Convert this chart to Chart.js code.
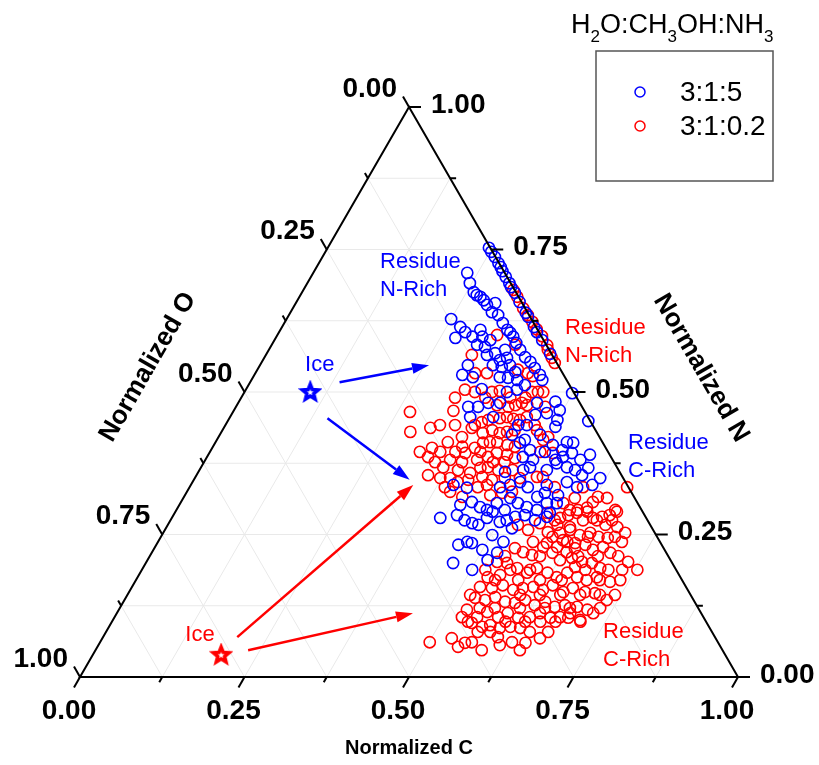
<!DOCTYPE html>
<html>
<head>
<meta charset="utf-8">
<script src="https://cdn.jsdelivr.net/npm/chart.js@4"></script>
<style>
html, body { margin: 0; padding: 0; background: #fff; }
</style>
</head>
<body>
<canvas id="ternaryChart" width="819" height="765"></canvas>
<script>
// Ternary data: normalized C and normalized N (O = 1 - C - N)
const blueC = [0.245,0.262,0.273,0.286,0.296,0.307,0.339,0.358,0.365,0.383,0.392,0.407,0.431,0.499,0.548,
  0.234,0.247,0.261,0.275,0.292,0.303,0.306,0.318,0.332,0.345,0.360,0.382,0.396,0.408,0.420,0.434,
  0.250,0.271,0.283,0.298,0.304,0.313,0.312,0.326,0.336,0.347,0.360,0.369,0.380,0.369,0.354,0.316,0.316,
  0.334,0.375,0.388,0.404,0.442,0.358,0.399,0.412,0.353,0.368,0.380,0.398,0.454,0.481,
  0.365,0.400,0.445,0.458,0.500,0.478,0.503,0.444,0.468,0.487,0.534,0.463,0.485,0.515,0.544,
  0.480,0.498,0.541,0.551,0.534,0.466,0.492,0.500,0.528,0.537,0.556,0.571,0.589,0.586,
  0.399,0.422,0.472,0.485,0.498,0.514,0.541,0.569,0.589,0.610,
  0.442,0.459,0.472,0.481,0.497,0.513,0.530,0.537,0.557,0.572,0.570,
  0.408,0.431,0.447,0.461,0.472,0.479,0.502,0.511,0.521,0.534,0.554,0.569,
  0.470,0.478,0.500,0.502,0.525,0.525,0.526,0.467,0.502,
  0.252,0.280,0.313,0.324,0.268,0.283,0.352,0.370,
  0.273,0.328,0.359,0.394,0.420,0.495,0.462,
  0.427,0.482,0.499,0.459,0.517,0.548,0.567,0.545,
  0.509,0.532,0.570,0.580,0.616];
const blueN = [0.753,0.737,0.726,0.712,0.702,0.691,0.658,0.639,0.632,0.614,0.605,0.591,0.567,0.498,0.449,
  0.709,0.691,0.675,0.667,0.653,0.656,0.640,0.635,0.621,0.609,0.597,0.574,0.561,0.553,0.542,0.530,
  0.628,0.614,0.605,0.597,0.609,0.597,0.583,0.579,0.565,0.568,0.556,0.560,0.547,0.544,0.547,0.547,0.530,
  0.526,0.526,0.525,0.521,0.521,0.505,0.500,0.504,0.474,0.474,0.481,0.481,0.481,0.483,
  0.456,0.456,0.442,0.442,0.451,0.463,0.439,0.425,0.416,0.425,0.412,0.411,0.398,0.407,0.411,
  0.386,0.381,0.386,0.393,0.398,0.360,0.363,0.368,0.363,0.375,0.368,0.363,0.367,0.354,
  0.337,0.332,0.333,0.337,0.342,0.333,0.337,0.342,0.333,0.337,
  0.307,0.298,0.293,0.305,0.314,0.305,0.298,0.316,0.305,0.305,0.288,
  0.279,0.284,0.275,0.270,0.267,0.279,0.272,0.275,0.281,0.284,0.275,0.281,
  0.237,0.235,0.223,0.249,0.218,0.237,0.261,0.200,0.188,
  0.746,0.719,0.684,0.674,0.670,0.661,0.604,0.586,
  0.595,0.591,0.574,0.535,0.512,0.468,0.460,
  0.302,0.290,0.293,0.232,0.205,0.293,0.319,0.323,
  0.395,0.381,0.381,0.390,0.349];

const redC = [0.319,0.331,0.350,0.363,0.376,0.389,0.403,0.419,0.424,0.437,0.446,0.665,
  0.334,0.313,0.370,0.396,0.334,0.352,0.414,0.424,0.333,0.350,0.376,0.387,0.437,0.446,0.454,
  0.269,0.334,0.395,0.414,0.423,0.431,0.441,0.470,0.387,0.395,0.411,0.421,0.432,0.443,0.451,
  0.287,0.314,0.370,0.377,0.398,0.410,0.424,0.434,0.444,0.478,
  0.353,0.334,0.379,0.399,0.407,0.417,0.428,0.446,0.459,0.496,0.501,
  0.336,0.372,0.368,0.389,0.413,0.427,0.437,0.454,0.469,0.522,
  0.352,0.393,0.414,0.425,0.436,0.454,0.476,0.519,0.528,
  0.388,0.403,0.417,0.436,0.453,0.438,0.450,0.555,0.598,0.423,0.464,0.480,
  0.582,0.598,0.629,0.626,0.622,0.644,0.667,0.595,0.610,
  0.532,0.552,0.570,0.564,0.584,0.592,0.614,0.613,0.635,0.548,0.564,0.580,0.590,0.609,0.627,0.630,
  0.533,0.549,0.569,0.588,0.599,0.619,0.637,0.649,0.656,0.549,0.532,
  0.529,0.548,0.562,0.582,0.595,0.610,0.627,0.638,0.660,0.671,
  0.531,0.548,0.561,0.580,0.596,0.609,0.628,0.641,0.660,0.674,
  0.529,0.528,0.551,0.562,0.583,0.594,0.614,0.631,0.643,0.663,0.677,0.689,
  0.548,0.567,0.578,0.595,0.610,0.626,
  0.501,0.531,0.548,0.555,0.565,0.600,0.610,0.626,0.647,0.665,
  0.566,0.590,0.600,0.611,0.626,0.640,0.653,0.663,0.671,0.665,0.685,0.702,0.705,
  0.603,0.616,0.635,0.649,0.665,0.680,0.592,0.611,0.622,0.639,0.652,0.668,0.681,0.697,0.732,0.753,
  0.643,0.662,0.678,0.695,0.722,0.668,0.685,0.698,0.693,0.709,0.733,0.694,0.712,0.724,0.690,0.710,
  0.584,0.627,0.648,0.671,0.595,0.649,0.690,
  0.540,0.593,0.651,0.681,0.712,
  0.522,0.560,0.590,0.674,0.709,0.730,
  0.546,0.581,0.614,0.647,0.705,0.736,
  0.521,0.597,0.627,0.658,0.688,0.718,0.741,
  0.547,0.570,0.608,0.646,0.684,0.730,
  0.541,0.598,0.628,0.651,0.674,0.712,
  0.565,0.584,0.644,0.672,0.645,0.587,
  0.325,0.371,0.409,0.432,0.326,0.349,0.379,0.470,
  0.319,0.350,0.373,0.411,0.502,0.351,0.392,0.439,0.457,
  0.373,0.388,0.471,0.494,0.400,0.494];
const redN = [0.679,0.667,0.647,0.635,0.623,0.610,0.598,0.582,0.574,0.560,0.551,0.333,
  0.600,0.565,0.583,0.539,0.533,0.533,0.533,0.528,0.504,0.500,0.500,0.502,0.500,0.500,0.500,
  0.465,0.467,0.477,0.474,0.477,0.481,0.477,0.474,0.447,0.451,0.454,0.456,0.453,0.451,0.456,
  0.430,0.437,0.421,0.437,0.428,0.433,0.428,0.430,0.433,0.433,
  0.412,0.402,0.404,0.402,0.411,0.412,0.412,0.407,0.404,0.416,0.421,
  0.386,0.381,0.368,0.393,0.381,0.386,0.393,0.390,0.384,0.393,
  0.354,0.363,0.358,0.367,0.368,0.363,0.363,0.351,0.351,
  0.333,0.342,0.346,0.351,0.346,0.333,0.337,0.333,0.333,0.316,0.319,0.323,
  0.305,0.293,0.316,0.307,0.297,0.314,0.293,0.314,0.293,
  0.267,0.258,0.237,0.270,0.254,0.267,0.240,0.263,0.235,0.226,0.219,0.214,0.228,0.218,0.205,0.219,
  0.202,0.200,0.191,0.183,0.191,0.183,0.175,0.183,0.193,0.179,0.175,
  0.158,0.156,0.161,0.153,0.156,0.158,0.153,0.161,0.149,0.156,
  0.139,0.135,0.140,0.132,0.130,0.135,0.126,0.132,0.123,0.126,
  0.118,0.105,0.105,0.114,0.105,0.112,0.104,0.105,0.112,0.104,0.105,0.112,
  0.095,0.088,0.091,0.086,0.088,0.086,
  0.061,0.068,0.053,0.060,0.061,0.070,0.056,0.061,0.060,0.068,
  0.288,0.279,0.284,0.288,0.290,0.279,0.281,0.284,0.290,0.267,0.263,0.253,0.237,
  0.253,0.258,0.249,0.253,0.246,0.244,0.235,0.228,0.237,0.226,0.232,0.223,0.228,0.218,0.202,0.188,
  0.209,0.202,0.200,0.191,0.167,0.175,0.170,0.175,0.149,0.147,0.135,0.123,0.118,0.112,0.104,0.100,
  0.275,0.275,0.275,0.275,0.246,0.246,0.246,
  0.212,0.212,0.212,0.212,0.212,
  0.188,0.188,0.188,0.188,0.188,0.188,
  0.170,0.170,0.170,0.170,0.170,0.170,
  0.144,0.144,0.144,0.144,0.144,0.144,0.144,
  0.121,0.121,0.121,0.121,0.121,0.121,
  0.097,0.097,0.097,0.097,0.097,0.097,
  0.079,0.079,0.079,0.079,0.047,0.047,
  0.490,0.490,0.490,0.490,0.442,0.442,0.442,0.442,
  0.395,0.395,0.395,0.395,0.395,0.377,0.377,0.377,0.377,
  0.349,0.349,0.349,0.349,0.325,0.325];

// ice compositions: [blue, red]
const iceC = [0.100, 0.195];
const iceN = [0.500, 0.039];

// arrows from ice to residues
const arrowFromC = [0.136, 0.149, 0.204, 0.232];
const arrowFromN = [0.517, 0.454, 0.070, 0.047];
const arrowToC = [0.257, 0.328, 0.338, 0.450];
const arrowToN = [0.547, 0.346, 0.337, 0.112];
const arrowSeries = [0, 0, 1, 1];

const tickValues = [0, 0.25, 0.5, 0.75, 1];
const tickLabels = ['0.00', '0.25', '0.50', '0.75', '1.00'];
const seriesLabels = ['3:1:5', '3:1:0.2'];
const seriesColors = ['#0000ff', '#ff0000'];

const SQ3 = Math.sqrt(3) / 2;
const FONT = "'Liberation Sans', Arial, sans-serif";

function toXY(c, n) {
    return { x: c + n / 2, y: n * SQ3 };
}

function makeStar(color) {
    const cv = document.createElement('canvas');
    cv.width = 24;
    cv.height = 24;
    const g = cv.getContext('2d');
    g.strokeStyle = color;
    g.lineWidth = 3.6;
    g.lineJoin = 'miter';
    g.beginPath();
    for (let i = 0; i < 10; i++) {
        const r = i % 2 === 0 ? 8.2 : 3.6;
        const a = -Math.PI / 2 + i * Math.PI / 5;
        const x = 12 + r * Math.cos(a), y = 12.5 + r * Math.sin(a);
        if (i === 0) g.moveTo(x, y); else g.lineTo(x, y);
    }
    g.closePath();
    g.stroke();
    // small open centre like the original marker
    g.fillStyle = '#fff';
    g.beginPath();
    g.arc(12, 12.8, 1.3, 0, Math.PI * 2);
    g.fill();
    return cv;
}

const bluePoints = blueC.map((c, i) => toXY(c, blueN[i]));
const redPoints = redC.map((c, i) => toXY(c, redN[i]));

// text notes, positions in plot units
const notes = [
    { x: 0.456, y: 0.631, lines: ['Residue', 'N-Rich'], s: 0 },
    { x: 0.737, y: 0.530, lines: ['Residue', 'N-Rich'], s: 1 },
    { x: 0.833, y: 0.356, lines: ['Residue', 'C-Rich'], s: 0 },
    { x: 0.795, y: 0.068, lines: ['Residue', 'C-Rich'], s: 1 },
    { x: 0.342, y: 0.474, lines: ['Ice'], s: 0 },
    { x: 0.160, y: 0.064, lines: ['Ice'], s: 1 }
];

const ternaryFrame = {
    id: 'ternaryFrame',
    beforeDatasetsDraw(chart) {
        const ctx = chart.ctx;
        const xs = chart.scales.x, ys = chart.scales.y;
        const P = (c, n) => { const p = toXY(c, n); return [xs.getPixelForValue(p.x), ys.getPixelForValue(p.y)]; };
        ctx.save();
        ctx.strokeStyle = '#e9e9e9';
        ctx.lineWidth = 1;
        for (let k = 1; k < 8; k++) {
            const v = k / 8;
            const segs = [
                [P(0, v), P(1 - v, v)],
                [P(v, 0), P(v, 1 - v)],
                [P(1 - v, 0), P(0, 1 - v)]
            ];
            segs.forEach(s => {
                ctx.beginPath();
                ctx.moveTo(s[0][0], s[0][1]);
                ctx.lineTo(s[1][0], s[1][1]);
                ctx.stroke();
            });
        }
        ctx.restore();
    },
    afterDatasetsDraw(chart) {
        const ctx = chart.ctx;
        const xs = chart.scales.x, ys = chart.scales.y;
        const P = (c, n) => { const p = toXY(c, n); return [xs.getPixelForValue(p.x), ys.getPixelForValue(p.y)]; };
        const U = (x, y) => [xs.getPixelForValue(x), ys.getPixelForValue(y)];
        ctx.save();

        // triangle
        const A = P(0, 0), B = P(1, 0), T = P(0, 1);
        ctx.strokeStyle = '#000';
        ctx.lineWidth = 2;
        ctx.lineJoin = 'miter';
        ctx.beginPath();
        ctx.moveTo(A[0], A[1]);
        ctx.lineTo(B[0], B[1]);
        ctx.lineTo(T[0], T[1]);
        ctx.closePath();
        ctx.stroke();

        // ticks
        const tick = (p, dx, dy, len) => {
            ctx.beginPath();
            ctx.moveTo(p[0], p[1]);
            ctx.lineTo(p[0] + dx * len, p[1] + dy * len);
            ctx.stroke();
        };
        for (let k = 0; k <= 8; k++) {
            const v = k / 8;
            const len = k % 2 === 0 ? 12 : 6;
            tick(P(v, 0), -0.5, SQ3, len);
            tick(P(1 - v, v), 1, 0, len);
            tick(P(0, 1 - v), -0.5, -SQ3, len);
        }

        // tick labels
        ctx.fillStyle = '#000';
        ctx.font = 'bold 28px ' + FONT;
        tickValues.forEach((v, i) => {
            let p = P(v, 0);
            ctx.textAlign = 'center';
            ctx.textBaseline = 'middle';
            ctx.fillText(tickLabels[i], p[0] - 11, p[1] + 34);
            p = P(1 - v, v);
            ctx.textAlign = 'left';
            ctx.fillText(tickLabels[i], p[0] + 22, p[1] - 2);
            p = P(0, 1 - v);
            ctx.textAlign = 'right';
            ctx.fillText(tickLabels[i], p[0] - 12, p[1] - 18);
        });

        // axis titles
        ctx.textAlign = 'center';
        ctx.textBaseline = 'middle';
        ctx.font = 'bold 20px ' + FONT;
        ctx.fillText('Normalized C', (A[0] + B[0]) / 2, A[1] + 71);
        ctx.font = 'bold 26px ' + FONT;
        ctx.save();
        ctx.translate(148, 367);
        ctx.rotate(-Math.PI / 3);
        ctx.fillText('Normalized O', 0, 0);
        ctx.restore();
        ctx.save();
        ctx.translate(701, 368);
        ctx.rotate(Math.PI / 3);
        ctx.fillText('Normalized N', 0, 0);
        ctx.restore();

        // arrows
        arrowFromC.forEach((c, i) => {
            const s = P(c, arrowFromN[i]), e = P(arrowToC[i], arrowToN[i]);
            const ang = Math.atan2(e[1] - s[1], e[0] - s[0]);
            const hl = 17, hw = 5.5;
            const bx = e[0] - hl * Math.cos(ang), by = e[1] - hl * Math.sin(ang);
            ctx.strokeStyle = seriesColors[arrowSeries[i]];
            ctx.fillStyle = seriesColors[arrowSeries[i]];
            ctx.lineWidth = 2.5;
            ctx.beginPath();
            ctx.moveTo(s[0], s[1]);
            ctx.lineTo(bx, by);
            ctx.stroke();
            ctx.beginPath();
            ctx.moveTo(e[0], e[1]);
            ctx.lineTo(bx + hw * Math.sin(ang), by - hw * Math.cos(ang));
            ctx.lineTo(bx - hw * Math.sin(ang), by + hw * Math.cos(ang));
            ctx.closePath();
            ctx.fill();
        });

        // notes
        ctx.font = '22px ' + FONT;
        ctx.textAlign = 'left';
        ctx.textBaseline = 'middle';
        notes.forEach(nt => {
            const p = U(nt.x, nt.y);
            ctx.fillStyle = seriesColors[nt.s];
            nt.lines.forEach((t, j) => ctx.fillText(t, p[0], p[1] + j * 28));
        });

        // legend
        ctx.strokeStyle = '#555';
        ctx.lineWidth = 1.5;
        ctx.strokeRect(596, 51, 177, 130);
        ctx.fillStyle = '#000';
        ctx.textBaseline = 'alphabetic';
        let x = 571;
        [['H', 0], ['2', 1], ['O:CH', 0], ['3', 1], ['OH:NH', 0], ['3', 1]].forEach(part => {
            ctx.font = (part[1] ? '17px ' : '27px ') + FONT;
            ctx.fillText(part[0], x, part[1] ? 42 : 33);
            x += ctx.measureText(part[0]).width;
        });
        ctx.font = '28px ' + FONT;
        ctx.textBaseline = 'middle';
        seriesLabels.forEach((lab, i) => {
            const y = 92 + i * 34;
            ctx.strokeStyle = seriesColors[i];
            ctx.lineWidth = 1.5;
            ctx.beginPath();
            ctx.arc(640, y, 5, 0, Math.PI * 2);
            ctx.stroke();
            ctx.fillStyle = '#000';
            ctx.fillText(lab, 680, y + 1);
        });
        ctx.restore();
    }
};

new Chart(document.getElementById('ternaryChart'), {
    type: 'scatter',
    data: {
        datasets: [
            {
                label: seriesLabels[0],
                data: bluePoints,
                pointStyle: 'circle',
                pointRadius: 5.6,
                borderWidth: 1.6,
                borderColor: seriesColors[0],
                backgroundColor: 'rgba(0,0,0,0)',
                clip: false
            },
            {
                label: seriesLabels[1],
                data: redPoints,
                pointStyle: 'circle',
                pointRadius: 5.6,
                borderWidth: 1.6,
                borderColor: seriesColors[1],
                backgroundColor: 'rgba(0,0,0,0)',
                clip: false
            },
            {
                label: 'Ice',
                data: iceC.map((c, i) => toXY(c, iceN[i])),
                pointStyle: [makeStar(seriesColors[0]), makeStar(seriesColors[1])],
                pointRadius: 10,
                clip: false
            }
        ]
    },
    options: {
        responsive: false,
        devicePixelRatio: 1,
        animation: false,
        layout: { padding: { left: 80, right: 81, top: 107, bottom: 88 } },
        scales: {
            x: { type: 'linear', min: 0, max: 1, display: false },
            y: { type: 'linear', min: 0, max: SQ3, display: false }
        },
        plugins: {
            legend: { display: false },
            tooltip: { enabled: false }
        }
    },
    plugins: [ternaryFrame]
});
</script>
</body>
</html>
